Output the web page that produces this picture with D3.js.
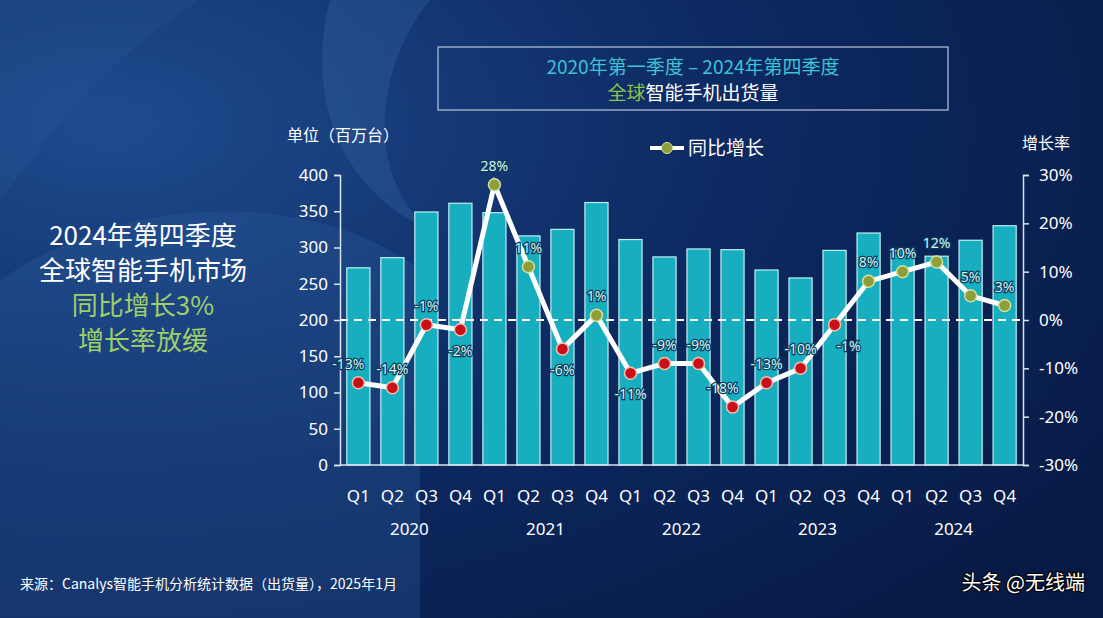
<!DOCTYPE html>
<html><head><meta charset="utf-8">
<script src="https://cdn.jsdelivr.net/npm/d3@7"></script>
<style>body{margin:0;background:#0a2357;}svg{display:block;font-family:"Noto Sans CJK SC","Noto Sans",sans-serif;}</style>
</head><body><svg id="c" width="1103" height="618"></svg>
<script>
const quarters=["Q1","Q2","Q3","Q4","Q1","Q2","Q3","Q4","Q1","Q2","Q3","Q4","Q1","Q2","Q3","Q4","Q1","Q2","Q3","Q4"];
const years=["2020","2021","2022","2023","2024"];
const shipments=[272,286,349,361,348,316,325,362,311,287,298,297,269,258,296,320,296,288,310,330];
const growth=[-13,-14,-1,-2,28,11,-6,1,-11,-9,-9,-18,-13,-10,-1,8,10,12,5,3];
const labelPos=["al","a","a","b","a","a","b","a","b","a","a","al","a","a","br","a","a","a","a","a"];
const leftTicks=[0,50,100,150,200,250,300,350,400];
const rightTicks=[-30,-20,-10,0,10,20,30];

const svg=d3.select("#c");
const defs=svg.append("defs");
const g1=defs.append("radialGradient").attr("id","bg").attr("cx","0.1").attr("cy","0.2").attr("r","1.1");
g1.append("stop").attr("offset","0").attr("stop-color","#1f4b8e");
g1.append("stop").attr("offset","0.5").attr("stop-color","#0d2a63");
g1.append("stop").attr("offset","1").attr("stop-color","#071a45");
svg.append("rect").attr("width",1103).attr("height",618).attr("fill","url(#bg)");
svg.append("path").attr("d","M0,280 C150,180 330,200 420,270 L420,618 L0,618Z").attr("fill","#2a5c9a").attr("opacity",0.35);
svg.append("path").attr("d","M330,0 C300,120 360,200 430,230 C360,170 380,60 430,0Z").attr("fill","#3a6aa8").attr("opacity",0.3);
svg.append("path").attr("d","M0,0 L200,0 C100,60 40,150 0,200Z").attr("fill","#2c5896").attr("opacity",0.25);

const x0=340,x1=1023,yb=465,yt=175;
const x=d3.scaleBand().domain(d3.range(20)).range([x0,x1]).paddingInner(0.32).paddingOuter(0.2);
const yL=d3.scaleLinear().domain([0,400]).range([yb,yt]);
const yR=d3.scaleLinear().domain([-30,30]).range([yb,yt]);

svg.append("g").selectAll("rect").data(shipments).join("rect")
 .attr("x",(d,i)=>x(i)).attr("y",d=>yL(d)).attr("width",x.bandwidth()).attr("height",d=>yb-yL(d))
 .attr("fill","#17aebf").attr("stroke","#bfeff2").attr("stroke-width",1.2);

const axL=svg.append("g").attr("transform",`translate(${x0},0)`).call(d3.axisLeft(yL).tickValues(leftTicks).tickSize(6).tickPadding(6));
const axR=svg.append("g").attr("transform",`translate(${x1},0)`).call(d3.axisRight(yR).tickValues(rightTicks).tickSize(6).tickPadding(10).tickFormat(d=>d+"%"));
[axL,axR].forEach(a=>{a.selectAll("path,line").attr("stroke","#d8e4f0").attr("stroke-width",1.5);a.selectAll("text").attr("fill","#ffffff").attr("font-size",17).attr("font-family","Noto Sans");});
svg.append("line").attr("x1",x0).attr("x2",x1).attr("y1",yb).attr("y2",yb).attr("stroke","#d8e4f0").attr("stroke-width",1.5);
svg.append("line").attr("x1",x0).attr("x2",x1).attr("y1",yR(0)).attr("y2",yR(0)).attr("stroke","#ffffff").attr("stroke-width",2).attr("stroke-dasharray","8,6");

svg.append("g").selectAll("text").data(quarters).join("text").attr("x",(d,i)=>x(i)+x.bandwidth()/2).attr("y",502)
 .attr("text-anchor","middle").attr("fill","#fff").attr("font-size",17).attr("font-family","Noto Sans").text(d=>d);
svg.append("g").selectAll("text").data(years).join("text").attr("x",(d,i)=>(x(i*4)+x(i*4+3)+x.bandwidth())/2).attr("y",535)
 .attr("text-anchor","middle").attr("fill","#fff").attr("font-size",17).attr("font-family","Noto Sans").text(d=>d);

const cx=i=>x(i)+x.bandwidth()/2;
svg.append("path").datum(growth).attr("d",d3.line().x((d,i)=>cx(i)).y(d=>yR(d))).attr("fill","none").attr("stroke","#ffffff").attr("stroke-width",5);
svg.append("g").selectAll("circle").data(growth).join("circle").attr("cx",(d,i)=>cx(i)).attr("cy",d=>yR(d)).attr("r",6)
 .attr("fill",d=>d<0?"#c8101a":"#8f9d3a").attr("stroke",d=>d<0?"#f3c0b0":"#d6e0a0").attr("stroke-width",1.5);
svg.append("g").selectAll("text").data(growth).join("text")
 .attr("x",(d,i)=>cx(i)+(labelPos[i]==="al"?-10:labelPos[i]==="br"?14:0))
 .attr("y",(d,i)=>yR(d)+(labelPos[i][0]==="a"?-14:26))
 .attr("text-anchor","middle").attr("fill","#d6f3f2").attr("font-size",14).attr("font-family","Noto Sans")
 .attr("stroke","#0b3a5a").attr("stroke-width",2.5).attr("paint-order","stroke").text(d=>d+"%");

svg.append("text").attr("x",287).attr("y",141).attr("fill","#fff").attr("font-size",16).text("单位（百万台）");
svg.append("text").attr("x",1022).attr("y",149).attr("fill","#fff").attr("font-size",16).text("增长率");
svg.append("line").attr("x1",650).attr("x2",684).attr("y1",148).attr("y2",148).attr("stroke","#fff").attr("stroke-width",4);
svg.append("circle").attr("cx",667).attr("cy",148).attr("r",5.5).attr("fill","#8f9d3a").attr("stroke","#d6e0a0");
svg.append("text").attr("x",688).attr("y",155).attr("fill","#fff").attr("font-size",19).text("同比增长");

svg.append("rect").attr("x",438).attr("y",47).attr("width",510).attr("height",63).attr("fill","none").attr("stroke","#b8c6d8").attr("stroke-width",1.2);
svg.append("text").attr("x",693).attr("y",74).attr("text-anchor","middle").attr("fill","#3fc2d2").attr("font-size",19).text("2020年第一季度 – 2024年第四季度");
const t2=svg.append("text").attr("x",693).attr("y",100).attr("text-anchor","middle").attr("font-size",19);
t2.append("tspan").attr("fill","#8fc34a").text("全球");
t2.append("tspan").attr("fill","#ffffff").text("智能手机出货量");

const lines=[["2024年第四季度","#fff"],["全球智能手机市场","#fff"],["同比增长3%","#9fcf6a"],["增长率放缓","#9fcf6a"]];
svg.append("g").selectAll("text").data(lines).join("text").attr("x",143).attr("y",(d,i)=>245+i*35)
 .attr("text-anchor","middle").attr("fill",d=>d[1]).attr("font-size",26).text(d=>d[0]);

svg.append("text").attr("x",20).attr("y",589).attr("fill","#fff").attr("font-size",14).text("来源：Canalys智能手机分析统计数据（出货量），2025年1月");
svg.append("text").attr("x",1085).attr("y",590).attr("text-anchor","end").attr("fill","#fff").attr("font-size",20)
 .attr("stroke","#000").attr("stroke-width",2).attr("paint-order","stroke").text("头条 @无线端");
</script></body></html>
